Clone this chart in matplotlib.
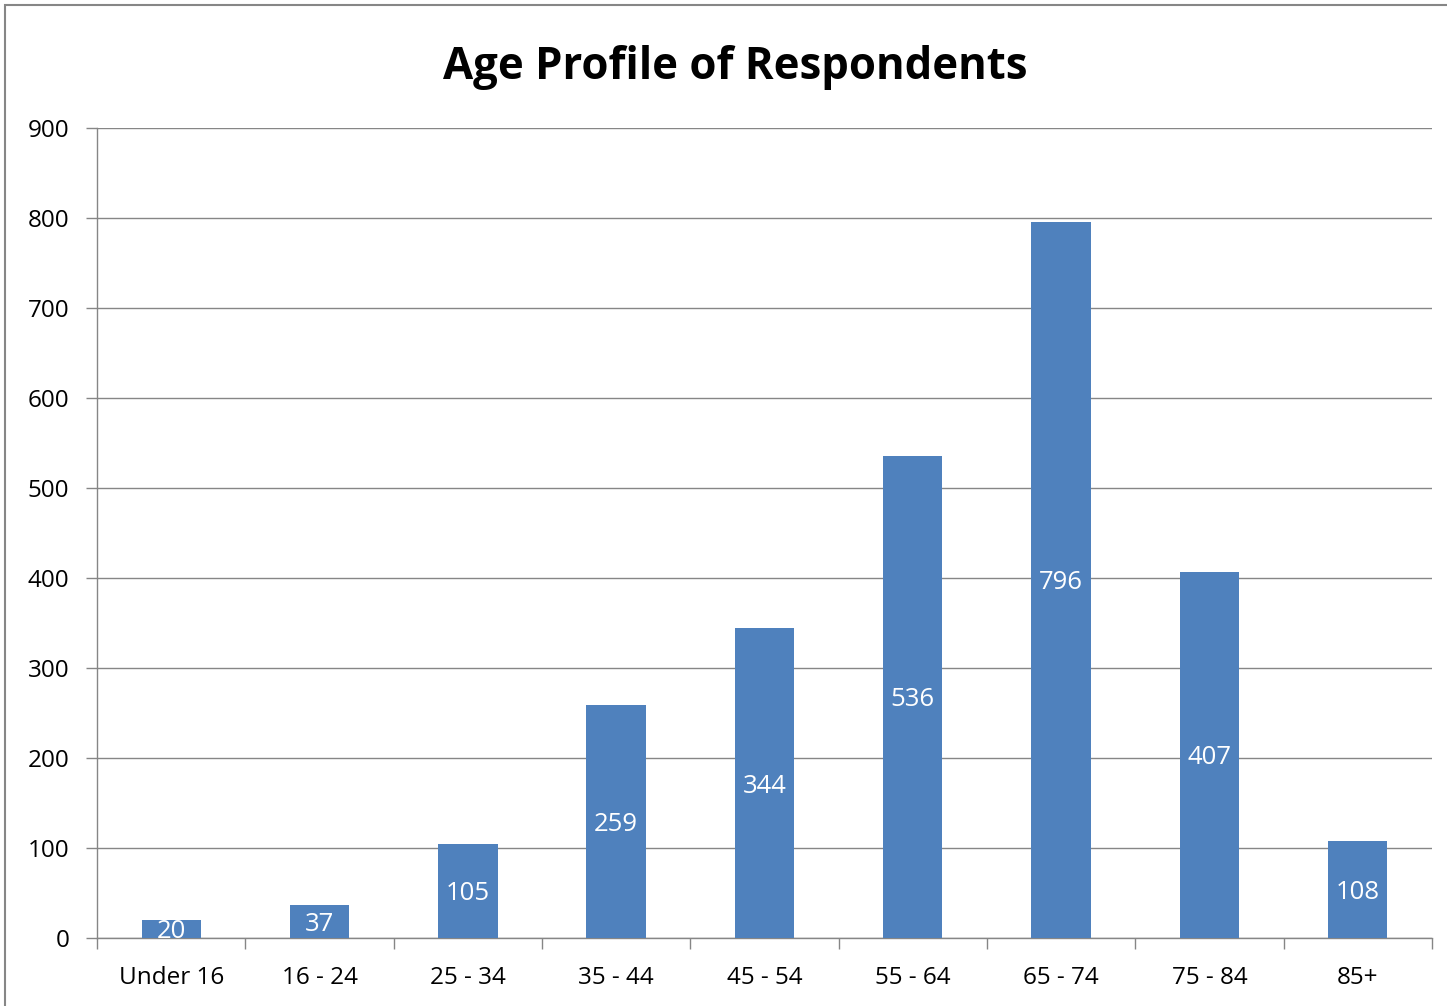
import matplotlib
matplotlib.use("Agg")
import matplotlib.pyplot as plt
from matplotlib.patches import Rectangle

categories = ["Under 16", "16 - 24", "25 - 34", "35 - 44", "45 - 54", "55 - 64", "65 - 74", "75 - 84", "85+"]
values = [20, 37, 105, 259, 344, 536, 796, 407, 108]
title = "Age Profile of Respondents"
yticks = [0, 100, 200, 300, 400, 500, 600, 700, 800, 900]

W, H = 1447, 1006
fig = plt.figure(figsize=(W / 100, H / 100), dpi=100)
fig.patch.set_facecolor("white")

left, right, top, bottom = 97, 1432, 128, 938
ax = fig.add_axes([left / W, 1 - bottom / H, (right - left) / W, (bottom - top) / H])

x = list(range(len(categories)))
bars = ax.bar(x, values, width=0.4, color="#4F81BD", zorder=3)
for xi, v in zip(x, values):
    ax.text(xi, v / 2, str(v), ha="center", va="center_baseline", color="white",
            fontsize=18.5, family="Open Sans", zorder=4)

ax.set_xlim(-0.5, len(categories) - 0.5)
ax.set_ylim(0, 900)
ax.set_yticks(yticks)
ax.set_yticklabels([str(t) for t in yticks], fontsize=17.5, family="Open Sans")
ax.yaxis.grid(True, color="#868686", linewidth=1, zorder=0)
ax.set_axisbelow(True)

ax.set_xticks(x)
ax.set_xticklabels(categories, fontsize=17.5, family="Open Sans")
ax.tick_params(axis="x", length=0, pad=20)
ax.set_xticks([i - 0.5 for i in range(len(categories) + 1)], minor=True)
ax.tick_params(axis="x", which="minor", length=8, color="#868686", width=1)
ax.tick_params(axis="y", length=8, color="#868686", width=1, pad=12)

for s in ["top", "right"]:
    ax.spines[s].set_visible(False)
for s in ["left", "bottom"]:
    ax.spines[s].set_color("#868686")
    ax.spines[s].set_linewidth(1)

fig.text(735 / W, 1 - 62 / H, title, ha="center", va="center_baseline",
         fontsize=31.5, fontweight="bold", family="Open Sans")

fig.patches.append(Rectangle((5 / W, -0.01), 1.05, 1 - 5 / H + 0.01, transform=fig.transFigure,
                             fill=False, edgecolor="#868686", linewidth=1.5))

fig.savefig("out.png", dpi=100)
